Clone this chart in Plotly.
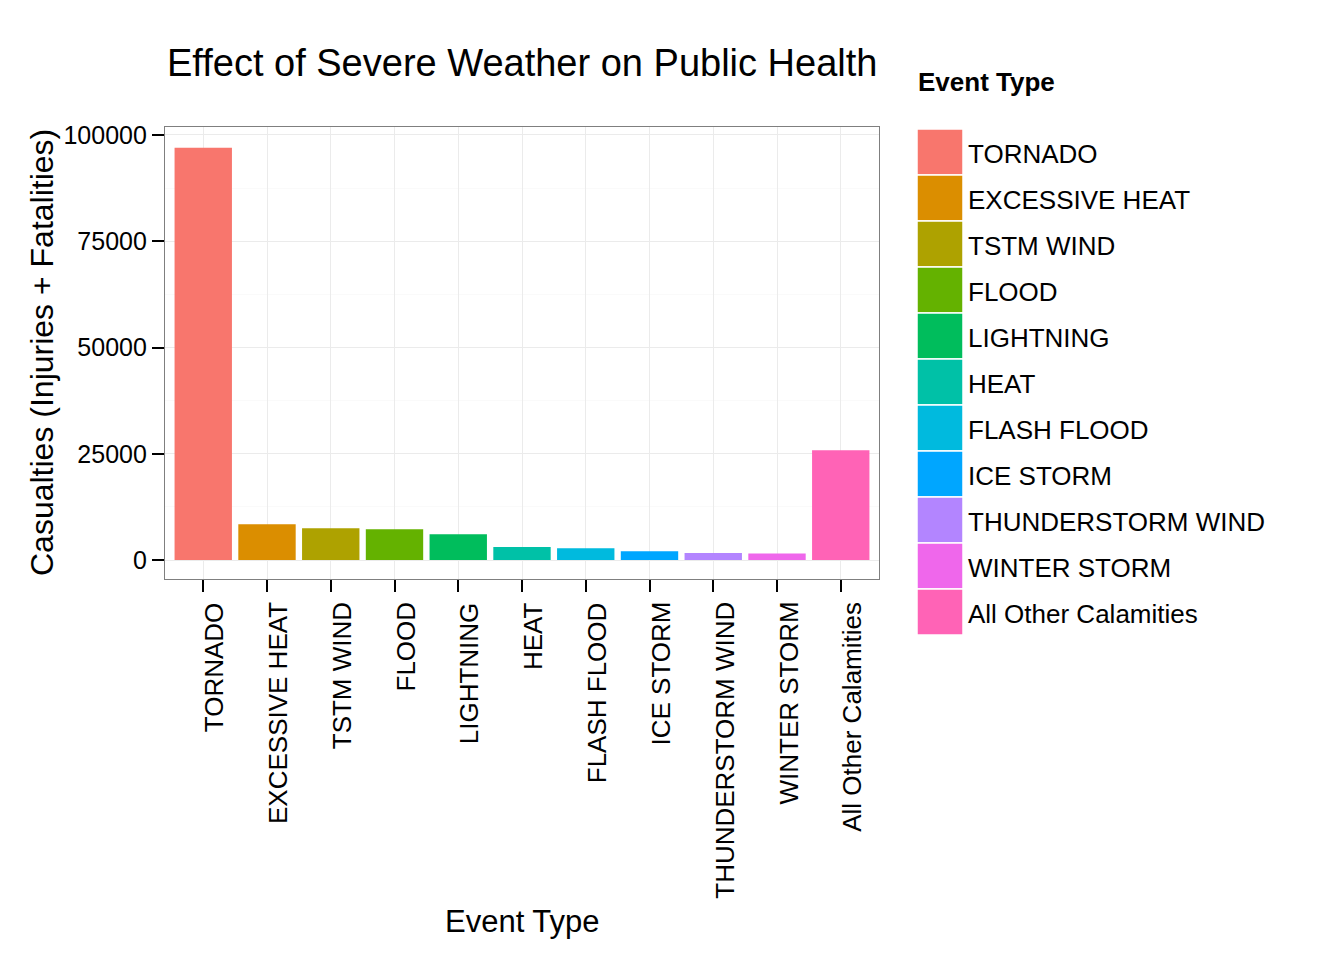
import plotly.graph_objects as go

event_types = ['TORNADO', 'EXCESSIVE HEAT', 'TSTM WIND', 'FLOOD', 'LIGHTNING', 'HEAT',
               'FLASH FLOOD', 'ICE STORM', 'THUNDERSTORM WIND', 'WINTER STORM',
               'All Other Calamities']
casualties = [96979, 8428, 7461, 7259, 6046, 3037, 2755, 2064, 1621, 1527, 25800]
colors = ['#F8766D', '#DB8E00', '#AEA200', '#64B200', '#00BD5C', '#00C1A7',
          '#00BADE', '#00A6FF', '#B385FF', '#EF67EB', '#FF63B6']
y_ticks = [0, 25000, 50000, 75000, 100000]

# page is shown with an 8px body margin, so pixel targets are shifted back
OFF = 8
W, H = 1344, 960
L, R, T, B = 165 - OFF, 879 - OFF, 127 - OFF, 579 - OFF
FONT = 'Liberation Sans, Arial, sans-serif'


def px(x):
    return (x - OFF - L) / (R - L)


def py(y):
    return (B - (y - OFF)) / (B - T)


fig = go.Figure()
fig.add_trace(go.Bar(
    x=event_types, y=casualties,
    marker=dict(color=colors, line=dict(width=0)),
    width=0.9, showlegend=False,
))

ymax = max(casualties)

axis_common = dict(
    showline=True, mirror=True, linecolor='#7F7F7F', linewidth=1.2,
    ticks='outside', ticklen=12, tickwidth=2, tickcolor='black',
    tickfont=dict(family=FONT, size=25, color='black'),
    showgrid=True, gridcolor='#EBEBEB', gridwidth=1, zeroline=False,
)

fig.update_layout(
    width=W, height=H,
    margin=dict(l=L, r=W - R, t=T, b=H - B, autoexpand=False),
    plot_bgcolor='white', paper_bgcolor='white',
    bargap=0.1,
    xaxis=dict(axis_common, showticklabels=False,
               range=[-0.6, len(event_types) - 0.4]),
    yaxis=dict(axis_common, range=[-4470, 101880], tickvals=y_ticks,
               ticktext=[str(v) for v in y_ticks], ticklabelstandoff=0,
               minor=dict(showgrid=True, gridcolor='#FAFAFA', tickvals=[12500, 37500, 62500, 87500])),
)

annotations = []
# x tick labels, rotated and sitting just right of each tick like ggplot's
for name in event_types:
    annotations.append(dict(xref='x', yref='paper', x=name, y=py(600), xshift=11,
                            xanchor='center', yanchor='top', showarrow=False,
                            textangle=-90, text=name,
                            font=dict(family=FONT, size=26, color='black')))
# title
annotations.append(dict(xref='paper', yref='paper', x=0.5, y=py(63),
                        xanchor='center', yanchor='middle', showarrow=False,
                        text='Effect of Severe Weather on Public Health',
                        font=dict(family=FONT, size=38, color='black')))
# axis titles
annotations.append(dict(xref='paper', yref='paper', x=0.5, y=py(921),
                        xanchor='center', yanchor='middle', showarrow=False,
                        text='Event Type',
                        font=dict(family=FONT, size=31, color='black')))
annotations.append(dict(xref='paper', yref='paper', x=px(42), y=0.5,
                        xanchor='center', yanchor='middle', showarrow=False,
                        textangle=-90, text='Casualties (Injuries + Fatalities)',
                        font=dict(family=FONT, size=32, color='black')))
# legend
annotations.append(dict(xref='paper', yref='paper', x=px(916), y=py(82),
                        xanchor='left', yanchor='middle', showarrow=False,
                        text='<b>Event Type</b>',
                        font=dict(family=FONT, size=26, color='black')))
shapes = []
key_top, key_h = 129, 46
for i, (name, c) in enumerate(zip(event_types, colors)):
    y0 = key_top + i * key_h
    shapes.append(dict(type='rect', xref='paper', yref='paper',
                       x0=px(917), x1=px(963), y0=py(y0 + key_h), y1=py(y0),
                       fillcolor=c, line=dict(color='white', width=1.5), layer='above'))
    annotations.append(dict(xref='paper', yref='paper', x=px(966), y=py(y0 + key_h / 2 + 2),
                            xanchor='left', yanchor='middle', showarrow=False,
                            text=name, font=dict(family=FONT, size=26, color='black')))

fig.update_layout(annotations=annotations, shapes=shapes)
fig.write_html('out.html')
